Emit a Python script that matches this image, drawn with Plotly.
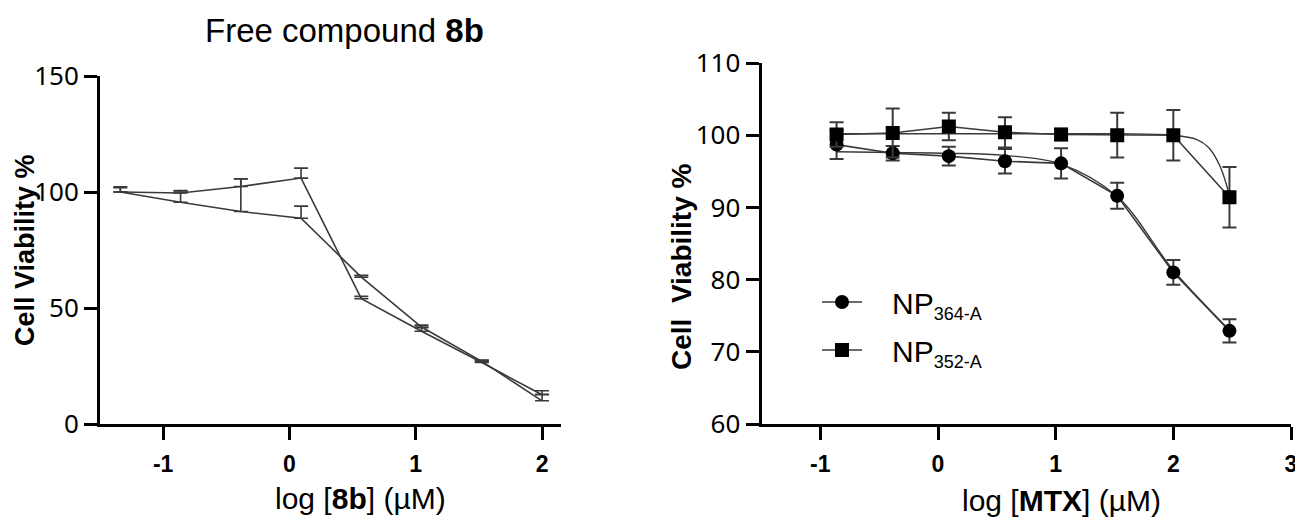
import plotly.graph_objects as go

W, H = 1303, 518
OFF = 8  # default page margin of the html body shifts the figure by 8 px
FW, FH = W - OFF, H - OFF  # figure size that exactly fills the visible window

# ---------------- Left panel: free compound 8b ----------------
log_8b = [-1.339, -0.862, -0.385, 0.092, 0.569, 1.046, 1.523, 2.0]
via_8b_a = [100.0, 99.6, 102.4, 106.0, 54.0, 40.0, 26.5, 12.6]
err_8b_a = [2.2, 1.0, 3.3, 4.3, 1.0, 1.5, 0.8, 1.7]
via_8b_b = [100.0, 95.6, 91.6, 88.7, 63.3, 41.8, 27.0, 10.0]
err_8b_b = [1.8, 4.8, 14.0, 5.2, 0.8, 0.8, 0.6, 2.8]
zeros_8b = [0, 0, 0, 0, 0, 0, 0, 0]

# ---------------- Right panel: nanoparticles (MTX) ----------------
log_mtx = [-0.862, -0.385, 0.092, 0.569, 1.046, 1.523, 2.0, 2.477]
np364 = [98.7, 97.5, 97.1, 96.4, 96.1, 91.6, 81.0, 72.9]
np364_err = [2.0, 1.0, 1.3, 1.7, 2.1, 1.8, 1.7, 1.6]
np364_fit = [97.7, 97.6, 97.5, 97.2, 96.0, 91.5, 81.3, 73.0]
np352 = [100.1, 100.3, 101.2, 100.4, 100.1, 100.0, 100.0, 91.4]
np352_err = [1.7, 3.4, 1.9, 2.1, 0.8, 3.1, 3.5, 4.2]
fit352_x = [-0.862, -0.385, 0.092, 0.569, 1.046, 1.523, 2.0, 2.2, 2.3, 2.4, 2.477]
np352_fit = [100.2, 100.2, 100.2, 100.2, 100.2, 100.2, 100.0, 99.4, 98.3, 95.6, 91.6]

left_xticks = [-1, 0, 1, 2]
left_yticks = [0, 50, 100, 150]
right_xticks = [-1, 0, 1, 2, 3]
right_yticks = [60, 70, 80, 90, 100, 110]


def px(x):  # page x -> paper fraction
    return (x - OFF) / FW


def py(y):  # page y (from top) -> paper fraction
    return (FH - (y - OFF)) / FH


LINE = "#3a3a3a"
TICKFONT_Y = dict(family="Noto Sans", size=26, color="black")
TICKFONT_X = dict(family="Liberation Sans", size=23, color="black", weight="bold")

fig = go.Figure()

for vals, errs in [(via_8b_a, err_8b_a), (via_8b_b, err_8b_b)]:
    fig.add_trace(go.Scatter(
        x=log_8b, y=vals, mode="lines", xaxis="x", yaxis="y",
        line=dict(color=LINE, width=1.6), showlegend=False,
        error_y=dict(type="data", array=errs, arrayminus=zeros_8b, symmetric=False,
                     color=LINE, thickness=1.6, width=7),
    ))

# fitted curves (right panel)
fig.add_trace(go.Scatter(x=log_mtx, y=np364_fit, mode="lines", xaxis="x2", yaxis="y2",
                         line=dict(color=LINE, width=1.4, shape="spline"), showlegend=False))
fig.add_trace(go.Scatter(x=fit352_x, y=np352_fit, mode="lines", xaxis="x2", yaxis="y2",
                         line=dict(color=LINE, width=1.4, shape="spline"), showlegend=False))

SUB = "\u00a0\u00a0\u00a0NP<sub><span style='font-size:18px'>{}</span></sub>"
fig.add_trace(go.Scatter(
    x=log_mtx, y=np364, mode="lines+markers", xaxis="x2", yaxis="y2",
    name=SUB.format("364-A"), legendgroup="a",
    line=dict(color=LINE, width=1.6),
    marker=dict(symbol="circle", size=14, color="black"),
    error_y=dict(type="data", array=np364_err, color=LINE, thickness=2, width=7),
))
fig.add_trace(go.Scatter(
    x=log_mtx, y=np352, mode="lines+markers", xaxis="x2", yaxis="y2",
    name=SUB.format("352-A"), legendgroup="b",
    line=dict(color=LINE, width=1.6),
    marker=dict(symbol="square", size=14, color="black"),
    error_y=dict(type="data", array=np352_err, color=LINE, thickness=2, width=7),
))

axis_common = dict(showline=True, linewidth=3, linecolor="black", ticks="outside",
                   ticklen=13, tickwidth=3, tickcolor="black", showgrid=False,
                   zeroline=False, mirror=False, automargin=False)

fig.update_layout(
    width=FW, height=FH, paper_bgcolor="white", plot_bgcolor="white",
    margin=dict(l=0, r=0, t=0, b=0, autoexpand=False),
    showlegend=True,
    legend=dict(x=px(817), y=py(276), xanchor="left", yanchor="top",
                font=dict(family="Liberation Sans", size=30, color="black"),
                tracegroupgap=6, bgcolor="rgba(0,0,0,0)", itemwidth=40),
    xaxis=dict(domain=[px(100), px(561)], range=[-1.5, 2.15], tickvals=left_xticks,
               ticktext=[str(v) for v in left_xticks], anchor="y",
               tickfont=TICKFONT_X, ticklabelstandoff=4, **axis_common),
    yaxis=dict(domain=[py(424), py(76)], range=[0, 150], tickvals=left_yticks,
               anchor="x", tickfont=TICKFONT_Y, **axis_common),
    xaxis2=dict(domain=[px(761.5), px(1291)], range=[-1.5, 3], tickvals=right_xticks,
                ticktext=[str(v) for v in right_xticks], anchor="y2",
                tickfont=TICKFONT_X, ticklabelstandoff=4, **axis_common),
    yaxis2=dict(domain=[py(424), py(63)], range=[60, 110], tickvals=right_yticks,
                anchor="x2", tickfont=TICKFONT_Y, **axis_common),
)


def ann(text, x, y, size, angle=0):
    fig.add_annotation(text=text, x=px(x), y=py(y), xref="paper", yref="paper",
                       xanchor="center", yanchor="middle", showarrow=False,
                       textangle=angle,
                       font=dict(family="Liberation Sans", size=size, color="black"))


ann("Free compound <b>8b</b>", 344, 31, 33)
ann("log [<b>8b</b>] (µM)", 360, 498, 30)
ann("log [<b>MTX</b>] (µM)", 1061, 500, 30)
ann("<b>Cell Viability %</b>", 25, 250, 27, -90)
ann("<b>Cell\u00a0 Viability %</b>", 681, 267, 28, -90)

fig.write_html("out.html")
